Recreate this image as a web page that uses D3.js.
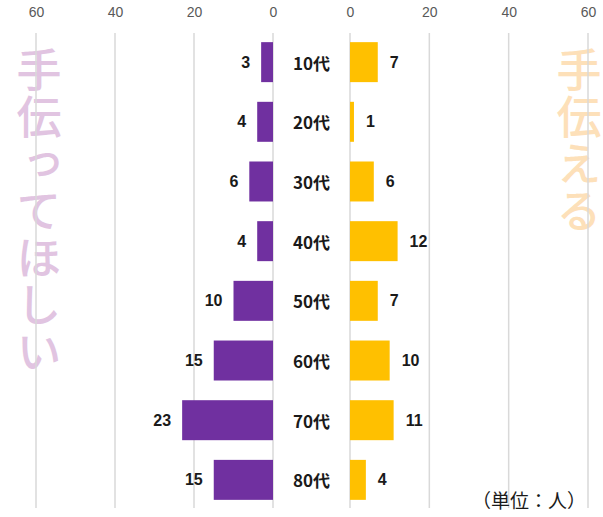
<!DOCTYPE html>
<html>
<head>
<meta charset="utf-8">
<script src="https://cdn.jsdelivr.net/npm/d3@7"></script>
<style>
  html, body { margin: 0; padding: 0; background: #fff; }
  svg { display: block; }
</style>
</head>
<body>
<svg id="chart" width="603" height="517"></svg>
<script>
// Age groups and head counts (people)
const categories = ["10代", "20代", "30代", "40代", "50代", "60代", "70代", "80代"];
const needHelp = [3, 4, 6, 4, 10, 15, 23, 15];   // 手伝ってほしい
const canHelp  = [7, 1, 6, 12, 7, 10, 11, 4];    // 手伝える
const tickValues = [0, 20, 40, 60];
const leftTitle = "手伝ってほしい";
const rightTitle = "手伝える";
const unitLabel = "（単位：人）";

const svg = d3.select("#chart");
const jp = "'Noto Sans CJK JP', 'Noto Sans', sans-serif";
const numFont = "'Liberation Sans', 'Noto Sans', sans-serif";

const xLeft = d3.scaleLinear().domain([0, 60]).range([273, 36]);
const xRight = d3.scaleLinear().domain([0, 60]).range([350, 588]);
const y = d3.scaleBand().domain(categories).range([32, 510])
  .paddingInner(0.33).paddingOuter(0.17);

const rows = categories.map((c, i) => ({ cat: c, need: needHelp[i], can: canHelp[i] }));

// Large faded side titles, set in vertical writing mode
function verticalTitle(text, cx, top, color) {
  svg.append("text")
    .attr("x", cx)
    .attr("y", top)
    .style("writing-mode", "vertical-rl")
    .style("text-orientation", "upright")
    .style("letter-spacing", "2px")
    .attr("font-family", jp)
    .attr("font-size", 45)
    .attr("font-weight", 500)
    .attr("fill", color)
    .text(text);
}
verticalTitle(leftTitle, 39, 47, "#e1c4e1");
verticalTitle(rightTitle, 579, 47, "#fde0b9");

// Vertical gridlines
const grid = svg.append("g");
[xLeft, xRight].forEach(sc => {
  grid.selectAll(null)
    .data(tickValues)
    .join("line")
    .attr("x1", d => sc(d)).attr("x2", d => sc(d))
    .attr("y1", 33).attr("y2", 508)
    .attr("stroke", "#d9d9d9")
    .attr("stroke-width", 1.5);
});

// Top axes
function topAxis(sc) {
  const g = svg.append("g")
    .attr("transform", "translate(0,20)")
    .call(d3.axisTop(sc).tickValues(tickValues).tickSize(0).tickPadding(3));
  g.select(".domain").remove();
  g.selectAll("text")
    .attr("font-family", numFont)
    .attr("font-size", 14)
    .attr("fill", "#595959");
}
topAxis(xLeft);
topAxis(xRight);

// Bars
svg.append("g").selectAll("rect")
  .data(rows)
  .join("rect")
  .attr("x", d => xLeft(d.need))
  .attr("y", d => y(d.cat))
  .attr("width", d => xLeft(0) - xLeft(d.need))
  .attr("height", y.bandwidth())
  .attr("fill", "#7030a0");

svg.append("g").selectAll("rect")
  .data(rows)
  .join("rect")
  .attr("x", xRight(0))
  .attr("y", d => y(d.cat))
  .attr("width", d => xRight(d.can) - xRight(0))
  .attr("height", y.bandwidth())
  .attr("fill", "#ffc000");

// Value labels
const mid = d => y(d.cat) + y.bandwidth() / 2;
svg.append("g").selectAll("text")
  .data(rows)
  .join("text")
  .attr("x", d => xLeft(d.need) - 11)
  .attr("y", mid)
  .attr("text-anchor", "end")
  .attr("dominant-baseline", "central")
  .attr("font-family", numFont)
  .attr("font-weight", "bold")
  .attr("font-size", 16)
  .attr("fill", "#1a1a1a")
  .text(d => d.need);

svg.append("g").selectAll("text")
  .data(rows)
  .join("text")
  .attr("x", d => xRight(d.can) + 12)
  .attr("y", mid)
  .attr("text-anchor", "start")
  .attr("dominant-baseline", "central")
  .attr("font-family", numFont)
  .attr("font-weight", "bold")
  .attr("font-size", 16)
  .attr("fill", "#1a1a1a")
  .text(d => d.can);

// Category labels between the two sides
svg.append("g").selectAll("text")
  .data(rows)
  .join("text")
  .attr("x", (xLeft(0) + xRight(0)) / 2)
  .attr("y", mid)
  .attr("text-anchor", "middle")
  .attr("dominant-baseline", "central")
  .attr("font-family", jp)
  .attr("font-weight", "bold")
  .attr("font-size", 17)
  .attr("fill", "#1a1a1a")
  .text(d => d.cat);

// Unit note
svg.append("text")
  .attr("x", 586)
  .attr("y", 499)
  .attr("text-anchor", "end")
  .attr("dominant-baseline", "central")
  .attr("font-family", jp)
  .attr("font-size", 19)
  .attr("fill", "#1a1a1a")
  .text(unitLabel);
</script>
</body>
</html>
